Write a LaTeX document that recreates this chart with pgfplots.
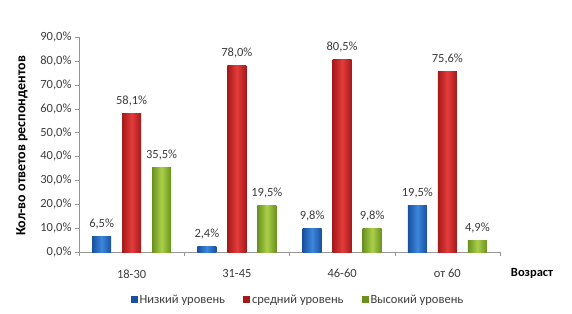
\documentclass[border=0pt]{standalone}
\usepackage{pgfplots}
\pgfplotsset{compat=1.18}
\usepackage{fontspec}
\setmainfont{Carlito}
\definecolor{txt}{RGB}{60,60,60}
\definecolor{axgray}{RGB}{150,150,150}
\definecolor{bmid}{RGB}{60,135,220}
\definecolor{bedge}{RGB}{25,80,160}
\definecolor{rmid}{RGB}{228,60,60}
\definecolor{redge}{RGB}{165,25,25}
\definecolor{gmid}{RGB}{170,208,75}
\definecolor{gedge}{RGB}{105,145,30}
\pgfplotsset{
  shB/.style={draw=none, left color=bedge, right color=bedge, middle color=bmid, bar shift=-30pt},
  shR/.style={draw=none, left color=redge, right color=redge, middle color=rmid, bar shift=0pt},
  shG/.style={draw=none, left color=gedge, right color=gedge, middle color=gmid, bar shift=30pt},
}
\begin{document}
\begin{tikzpicture}[x=1pt,y=1pt,font=\fontsize{12.5}{14}\selectfont]
\useasboundingbox (0,0) rectangle (572,313);
\begin{axis}[
  at={(79pt,61pt)}, anchor=south west,
  scale only axis, width=421pt, height=215pt,
  xmin=-0.5, xmax=3.5, ymin=0, ymax=90,
  ybar, bar width=19pt,
  axis x line*=bottom, axis y line*=left,
  axis line style={axgray, -},
  ytick={0,10,...,90},
  yticklabel={\pgfmathprintnumber[fixed,fixed zerofill,precision=1,use comma]{\tick}\%},
  /pgf/number format/assume math mode=true,
  xtick={0,1,2,3},
  xticklabels={18-30,31-45,46-60,от 60},
  minor xtick={-0.5,0.5,1.5,2.5,3.5},
  major x tick style={draw=none},
  minor x tick style={axgray},
  y tick style={axgray},
  tick align=outside,
  major tick length=4pt, minor tick length=4pt,
  tick label style={txt},
  xticklabel style={yshift=-10pt},
  nodes near coords={\pgfmathprintnumber[fixed,fixed zerofill,precision=1,use comma]{\pgfplotspointmeta}\%},
  every node near coord/.append style={txt, yshift=4pt},
  clip=false,
  legend style={at={(0.52,-0.223)}, anchor=center, draw=none, legend columns=3,
    /tikz/every even column/.append style={column sep=16pt}, text=txt,
    font=\fontsize{12.5}{14}\selectfont},
  legend image code/.code={\draw[#1,draw=none] (0pt,-3.5pt) rectangle (7pt,3.5pt);},
]
\addlegendimage{fill=bedge, draw=none}
\addlegendimage{fill=redge, draw=none}
\addlegendimage{fill=gedge, draw=none}
\legend{Низкий уровень, средний уровень, Высокий уровень}
% Низкий уровень
\addplot[shB, forget plot] coordinates {(0,6.5)};
\addplot[shB, forget plot] coordinates {(1,2.4)};
\addplot[shB, forget plot] coordinates {(2,9.8)};
\addplot[shB, forget plot] coordinates {(3,19.5)};
% средний уровень
\addplot[shR, forget plot] coordinates {(0,58.1)};
\addplot[shR, forget plot] coordinates {(1,78.0)};
\addplot[shR, forget plot] coordinates {(2,80.5)};
\addplot[shR, forget plot] coordinates {(3,75.6)};
% Высокий уровень
\addplot[shG, forget plot] coordinates {(0,35.5)};
\addplot[shG, forget plot] coordinates {(1,19.5)};
\addplot[shG, forget plot] coordinates {(2,9.8)};
\addplot[shG, forget plot] coordinates {(3,4.9)};
\end{axis}
\node[rotate=90, font=\fontsize{14}{16}\selectfont\bfseries, text=black] at (22,167) {Кол-во ответов респондентов};
\node[font=\fontsize{12.5}{14}\selectfont\bfseries, text=black] at (532,40) {Возраст};
\end{tikzpicture}
\end{document}
